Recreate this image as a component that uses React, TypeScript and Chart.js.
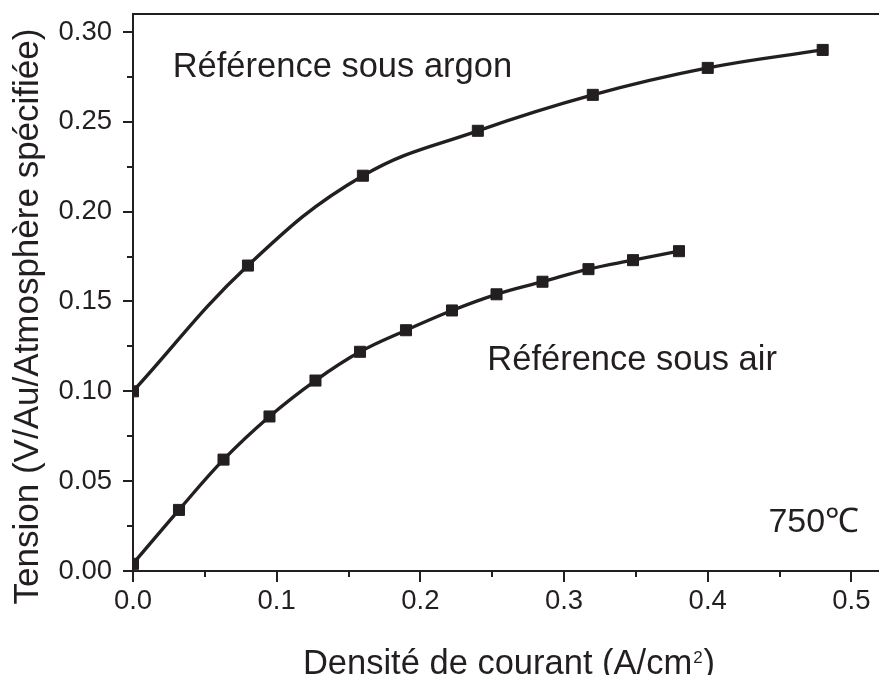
import React, { useEffect, useRef } from 'react';
import { Chart, registerables } from 'chart.js';

Chart.register(...registerables);

// ---- data ----
const argonX = [0, 0.08, 0.16, 0.24, 0.32, 0.40, 0.48];
const argonY = [0.100, 0.170, 0.220, 0.245, 0.265, 0.280, 0.290];
const airX = [0, 0.032, 0.063, 0.095, 0.127, 0.158, 0.190, 0.222, 0.253, 0.285, 0.317, 0.348, 0.380];
const airY = [0.004, 0.034, 0.062, 0.086, 0.106, 0.122, 0.134, 0.145, 0.154, 0.161, 0.168, 0.173, 0.178];

const seriesNames = ['Référence sous argon', 'Référence sous air'];
const xTitle = 'Densité de courant (A/cm';
const xTitleSup = '2';
const xTitleEnd = ')';
const yTitle = 'Tension (V/Au/Atmosphère spécifiée)';
const tempLabel = '750℃';

// annotation anchors in data units
const argonLabelAt = [0.0276, 0.2752];
const airLabelAt = [0.2466, 0.1119];
const tempLabelAt = [0.5054, 0.0215];

const xMin = 0;
const xMax = 0.5192;
const yMin = 0;
const yMax = 0.31;

const INK = '#231f20';
const FONT = '"Liberation Sans", Arial, Helvetica, sans-serif';

const decor = {
  id: 'decor',
  afterDraw(chart: any) {
    const { ctx, chartArea } = chart;
    const xs = chart.scales.x;
    const ys = chart.scales.y;
    ctx.save();
    ctx.strokeStyle = INK;
    ctx.fillStyle = INK;
    // top frame line
    ctx.lineWidth = 2;
    ctx.beginPath();
    ctx.moveTo(chartArea.left - 1, chartArea.top);
    ctx.lineTo(chartArea.right + 2, chartArea.top);
    ctx.stroke();
    // x ticks (major 0.1, minor 0.05)
    for (let i = 0; i <= 10; i++) {
      const v = i * 0.05;
      const px = Math.round(xs.getPixelForValue(v));
      const len = i % 2 === 0 ? 11 : 6;
      ctx.beginPath();
      ctx.moveTo(px, chartArea.bottom);
      ctx.lineTo(px, chartArea.bottom + len);
      ctx.stroke();
    }
    // y ticks (major 0.05, minor 0.025)
    for (let i = 0; i <= 12; i++) {
      const v = i * 0.025;
      const py = Math.round(ys.getPixelForValue(v));
      const len = i % 2 === 0 ? 10 : 6;
      ctx.beginPath();
      ctx.moveTo(chartArea.left, py);
      ctx.lineTo(chartArea.left - len, py);
      ctx.stroke();
    }
    // annotations
    ctx.textBaseline = 'alphabetic';
    ctx.font = `34.5px ${FONT}`;
    ctx.textAlign = 'left';
    ctx.fillText(seriesNames[0], xs.getPixelForValue(argonLabelAt[0]), ys.getPixelForValue(argonLabelAt[1]));
    ctx.fillText(seriesNames[1], xs.getPixelForValue(airLabelAt[0]), ys.getPixelForValue(airLabelAt[1]));
    ctx.font = `34px ${FONT}`;
    ctx.textAlign = 'right';
    ctx.fillText(tempLabel, xs.getPixelForValue(tempLabelAt[0]), ys.getPixelForValue(tempLabelAt[1]));

    // y title
    ctx.save();
    ctx.font = `35px ${FONT}`;
    ctx.textAlign = 'center';
    ctx.translate(38, 316.5);
    ctx.rotate(-Math.PI / 2);
    ctx.fillText(yTitle, 0, 0);
    ctx.restore();

    // x title with superscript
    const bigFont = `34.5px ${FONT}`;
    const supFont = `17px ${FONT}`;
    ctx.textAlign = 'left';
    ctx.font = bigFont;
    const w1 = ctx.measureText(xTitle).width;
    const w3 = ctx.measureText(xTitleEnd).width;
    ctx.font = supFont;
    const w2 = ctx.measureText(xTitleSup).width + 2;
    const total = w1 + w2 + w3;
    const cx = 509;
    const base = 674;
    const x0 = cx - total / 2;
    ctx.font = bigFont;
    ctx.fillText(xTitle, x0, base);
    ctx.font = supFont;
    ctx.fillText(xTitleSup, x0 + w1 + 1, base - 11);
    ctx.font = bigFont;
    ctx.fillText(xTitleEnd, x0 + w1 + w2, base);
    ctx.restore();
  },
};

const seriesStyle = {
  borderColor: INK,
  backgroundColor: INK,
  borderWidth: 3.4,
  pointStyle: 'rect',
  pointRadius: 7.8,
  pointBorderWidth: 1,
  pointBackgroundColor: INK,
  pointBorderColor: INK,
  tension: 0.4,
  fill: false,
};

export default function App() {
  const ref = useRef<HTMLCanvasElement | null>(null);
  useEffect(() => {
    if (!ref.current) return;
    const chart = new Chart(ref.current, {
      type: 'line',
      data: {
        datasets: [
          {
            label: seriesNames[0],
            data: argonX.map((x, i) => ({ x, y: argonY[i] })),
            ...seriesStyle,
          } as any,
          {
            label: seriesNames[1],
            data: airX.map((x, i) => ({ x, y: airY[i] })),
            ...seriesStyle,
          } as any,
        ],
      },
      options: {
        responsive: false,
        animation: false,
        devicePixelRatio: 1,
        layout: { autoPadding: false, padding: { top: 14, left: 0, right: 0, bottom: 0 } },
        plugins: {
          legend: { display: false },
          tooltip: { enabled: false },
          title: { display: false },
        },
        scales: {
          x: {
            type: 'linear',
            min: xMin,
            max: xMax,
            grid: { display: true, drawOnChartArea: false, drawTicks: false },
            border: { display: true, color: INK, width: 2 },
            ticks: {
              stepSize: 0.1,
              includeBounds: false,
              padding: 14,
              color: INK,
              font: { family: FONT, size: 27.5 },
              maxRotation: 0,
              autoSkip: false,
              callback: (v: any) => Number(v).toFixed(1),
            },
            afterFit: (s: any) => {
              s.height = 104;
              s.paddingLeft = 0;
              s.paddingRight = 0;
            },
          },
          y: {
            type: 'linear',
            min: yMin,
            max: yMax,
            grid: { display: true, drawOnChartArea: false, drawTicks: false },
            border: { display: true, color: INK, width: 2 },
            ticks: {
              stepSize: 0.05,
              includeBounds: false,
              padding: 21,
              color: INK,
              font: { family: FONT, size: 27.5 },
              autoSkip: false,
              callback: (v: any) => Number(v).toFixed(2),
            },
            afterFit: (s: any) => {
              s.width = 133;
              s.paddingTop = 0;
              s.paddingBottom = 0;
            },
          },
        },
      },
      plugins: [decor],
    });
    return () => chart.destroy();
  }, []);
  return (
    <div style={{ position: 'absolute', left: 0, top: 0, width: 879, height: 675, background: '#fff' }}>
      <canvas ref={ref} width={879} height={675} style={{ display: 'block' }} />
    </div>
  );
}
